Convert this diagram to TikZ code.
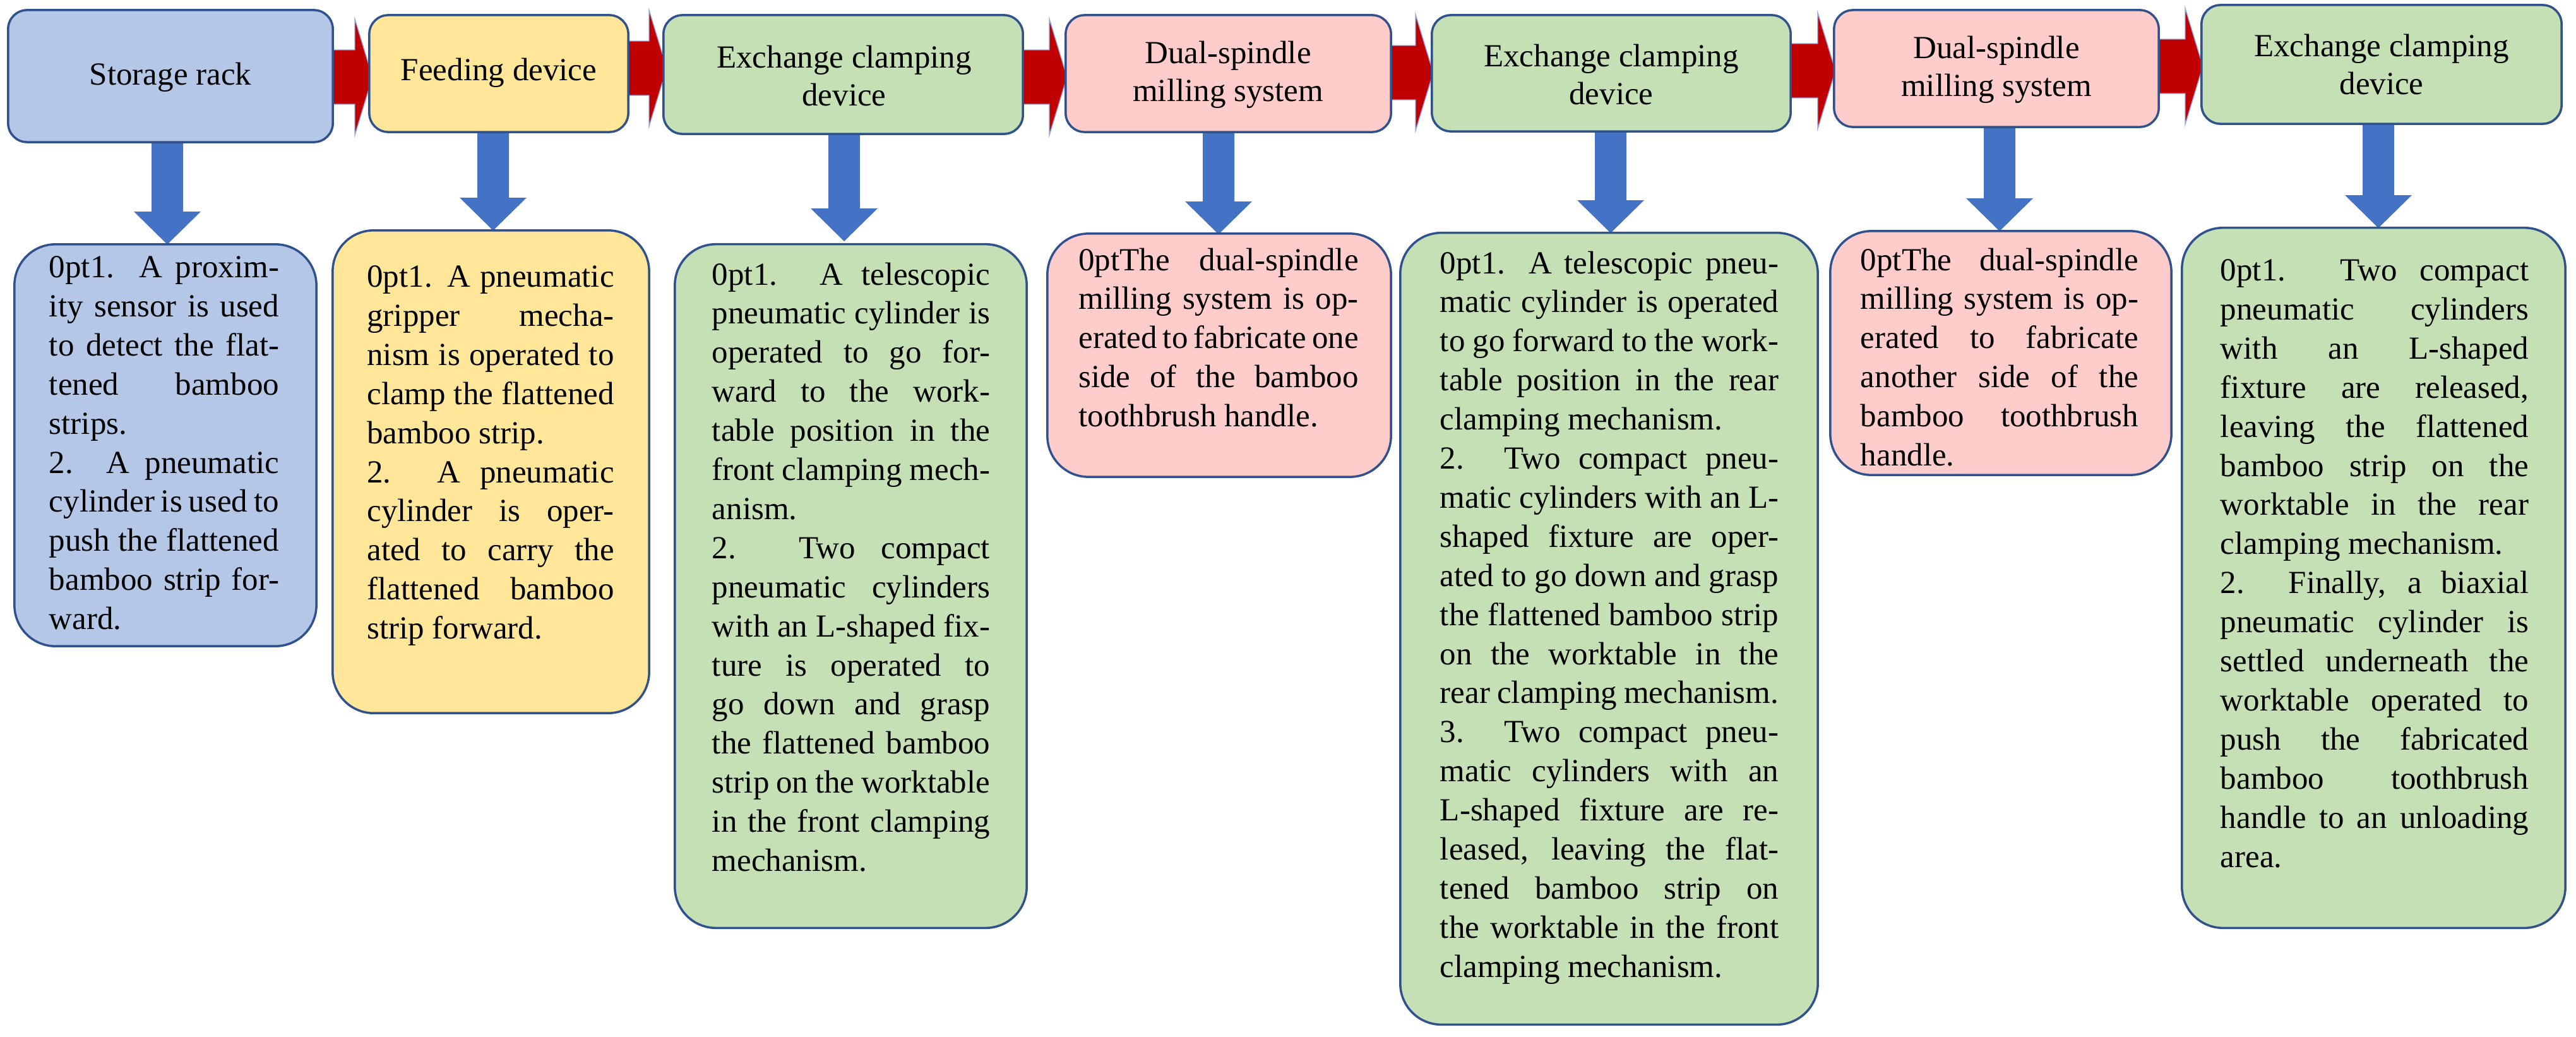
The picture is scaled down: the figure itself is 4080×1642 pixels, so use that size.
\documentclass[tikz,border=0pt]{standalone}
\usepackage{fontspec}
\setmainfont{Liberation Serif}
\definecolor{bord}{HTML}{2F528F}
\definecolor{cblue}{HTML}{B4C7E7}
\definecolor{cyel}{HTML}{FFE699}
\definecolor{cgrn}{HTML}{C5E0B4}
\definecolor{cpink}{HTML}{FFCCCC}
\definecolor{ared}{HTML}{C00000}
\definecolor{ablue}{HTML}{4472C4}
\newcommand{\redarr}[3]{\fill[ared,draw=ablue!60,line width=0.4pt] (#1,#3-43)--(#2-28,#3-43)--(#2-28,#3-92)--(#2,#3)--(#2-28,#3+92)--(#2-28,#3+43)--(#1,#3+43)--cycle;}
\newcommand{\bluearr}[3]{\fill[ablue] (#1-25,#2)--(#1+25,#2)--(#1+25,#3-52)--(#1+53,#3-52)--(#1,#3)--(#1-53,#3-52)--(#1-25,#3-52)--cycle;}
\begin{document}
\begin{tikzpicture}[x=0.01cm,y=-0.01cm,
  box/.style={draw=bord,line width=1pt,rounded corners=0.3cm,inner sep=0pt},
  bbox/.style={draw=bord,line width=1pt,rounded corners=0.65cm,inner sep=0pt},
  ttl/.style={align=center,font=\fontsize{14.5}{17}\selectfont,inner sep=0pt},
  txt/.style={anchor=north,align=justify,inner sep=0pt,font=\fontsize{14.5}{17.6}\selectfont\hyphenpenalty=10000\tolerance=10000\emergencystretch=2em}]
\useasboundingbox (0,0) rectangle (4080,1642);
% red arrows
\redarr{520}{590}{122}
\redarr{990}{1056}{108}
\redarr{1615}{1690}{122}
\redarr{2198}{2270}{115}
\redarr{2830}{2907}{112}
\redarr{3414}{3489}{105}
% blue arrows
\bluearr{265}{220}{387}
\bluearr{781}{205}{365}
\bluearr{1337}{208}{382}
\bluearr{1930}{205}{371}
\bluearr{2551}{204}{369}
\bluearr{3167}{197}{366}
\bluearr{3767}{192}{361}
% top boxes
\node[box,fill=cblue,minimum width=5.14cm,minimum height=2.09cm] (s1) at (270,120.5) {};
\node[box,fill=cyel,minimum width=4.10cm,minimum height=1.85cm] (s2) at (790,116.5) {};
\node[box,fill=cgrn,minimum width=5.69cm,minimum height=1.88cm] (s3) at (1335.5,118) {};
\node[box,fill=cpink,minimum width=5.15cm,minimum height=1.85cm] (s4) at (1945.5,116.5) {};
\node[box,fill=cgrn,minimum width=5.68cm,minimum height=1.84cm] (s5) at (2552,116) {};
\node[box,fill=cpink,minimum width=5.14cm,minimum height=1.85cm] (s6) at (3162,108.5) {};
\node[box,fill=cgrn,minimum width=5.70cm,minimum height=1.88cm] (s7) at (3772,102) {};
\node[ttl] (t1) at (270,122) {Storage rack};
\node[ttl] (t2) at (790,115) {Feeding device};
\node[ttl] (t3) at (1337,120) {Exchange clamping\\device};
\node[ttl] (t4) at (1945,118) {Dual-spindle\\milling system};
\node[ttl] (t5) at (2552,118) {Exchange clamping\\device};
\node[ttl] (t6) at (3162,110) {Dual-spindle\\milling system};
\node[ttl] (t7) at (3772,102) {Exchange clamping\\device};
% bottom boxes
\node[bbox,fill=cblue,minimum width=4.78cm,minimum height=6.36cm] (b1) at (262,705) {};
\node[bbox,fill=cyel,minimum width=5.01cm,minimum height=7.64cm] (b2) at (777.5,747) {};
\node[bbox,fill=cgrn,minimum width=5.57cm,minimum height=10.82cm] (b3) at (1347.5,928) {};
\node[bbox,fill=cpink,minimum width=5.44cm,minimum height=3.85cm] (b4) at (1931,562.5) {};
\node[bbox,fill=cgrn,minimum width=6.61cm,minimum height=12.53cm] (b5) at (2548.5,995.5) {};
\node[bbox,fill=cpink,minimum width=5.40cm,minimum height=3.86cm] (b6) at (3169,559) {};
\node[bbox,fill=cgrn,minimum width=6.07cm,minimum height=11.08cm] (b7) at (3759.5,915) {};
\node[txt,text width=3.64cm] (x1) at (260,405) {1. A proximity sensor is used to detect the flattened bamboo strips.\par 2. A pneumatic cylinder is used to push the flattened bamboo strip forward.};
\node[txt,text width=3.91cm] (x2) at (777,420) {1. A pneumatic gripper mechanism is operated to clamp the flattened bamboo strip.\par 2. A pneumatic cylinder is operated to carry the flattened bamboo strip forward.};
\node[txt,text width=4.40cm] (x3) at (1348,415) {1. A telescopic pneumatic cylinder is operated to go forward to the worktable position in the front clamping mechanism.\par 2. Two compact pneumatic cylinders with an L-shaped fixture is operated to go down and grasp the flattened bamboo strip on the worktable in the front clamping mechanism.};
\node[txt,text width=4.43cm] (x4) at (1930,392) {The dual-spindle milling system is operated to fabricate one side of the bamboo toothbrush handle.};
\node[txt,text width=5.36cm] (x5) at (2549,397) {1. A telescopic pneumatic cylinder is operated to go forward to the worktable position in the rear clamping mechanism.\par 2. Two compact pneumatic cylinders with an L-shaped fixture are operated to go down and grasp the flattened bamboo strip on the worktable in the rear clamping mechanism.\par 3. Two compact pneumatic cylinders with an L-shaped fixture are released, leaving the flattened bamboo strip on the worktable in the front clamping mechanism.};
\node[txt,text width=4.40cm] (x6) at (3167,392) {The dual-spindle milling system is operated to fabricate another side of the bamboo toothbrush handle.};
\node[txt,text width=4.88cm] (x7) at (3761,410) {1. Two compact pneumatic cylinders with an L-shaped fixture are released, leaving the flattened bamboo strip on the worktable in the rear clamping mechanism.\par 2. Finally, a biaxial pneumatic cylinder is settled underneath the worktable operated to push the fabricated bamboo toothbrush handle to an unloading area.};
\end{tikzpicture}
\end{document}
